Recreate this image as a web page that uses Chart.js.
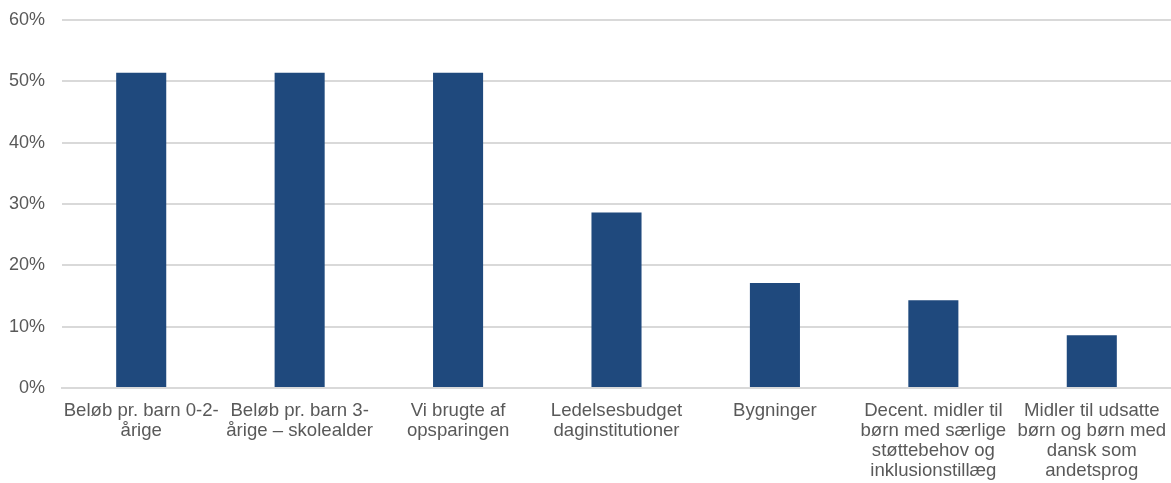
<!DOCTYPE html>
<html>
<head>
<meta charset="utf-8">
<script src="https://cdn.jsdelivr.net/npm/chart.js@4"></script>
<style>
html,body{margin:0;padding:0;background:#fff;}
#wrap{width:1171px;height:483px;position:relative;}
</style>
</head>
<body>
<div id="wrap"><canvas id="c"></canvas></div>
<script>
const categories = [
  ["Beløb pr. barn 0-2-", "årige"],
  ["Beløb pr. barn 3-", "årige – skolealder"],
  ["Vi brugte af", "opsparingen"],
  ["Ledelsesbudget", "daginstitutioner"],
  ["Bygninger"],
  ["Decent. midler til", "børn med særlige", "støttebehov og", "inklusionstillæg"],
  ["Midler til udsatte", "børn og børn med", "dansk som", "andetsprog"]
];
const values = [51.4, 51.4, 51.4, 28.6, 17.1, 14.3, 8.6];
const yTicks = [0, 10, 20, 30, 40, 50, 60];

new Chart(document.getElementById('c'), {
  type: 'bar',
  data: {
    labels: categories,
    datasets: [{
      data: values,
      backgroundColor: '#1F497D',
      barPercentage: 0.316,
      categoryPercentage: 1
    }]
  },
  options: {
    responsive: true,
    maintainAspectRatio: false,
    animation: false,
    layout: { padding: { left: 8, right: 0, top: 20, bottom: 0 } },
    plugins: { legend: { display: false }, tooltip: { enabled: false } },
    scales: {
      x: {
        grid: { display: false, drawTicks: false },
        border: { display: true, color: '#d9d9d9', width: 2 },
        afterFit: (axis) => { axis.height = 95; axis.paddingLeft = 0; axis.paddingRight = 0; },
        ticks: {
          color: '#595959',
          font: { family: "'Liberation Sans', Arial, sans-serif", size: 18.6, lineHeight: 1.075 },
          padding: 13,
          maxRotation: 0,
          minRotation: 0,
          autoSkip: false
        }
      },
      y: {
        min: 0,
        max: 60,
        afterBuildTicks: (axis) => { axis.ticks = yTicks.map(v => ({ value: v })); },
        afterFit: (axis) => { axis.width = 54; axis.paddingTop = 0; axis.paddingBottom = 0; },
        grid: { color: '#d9d9d9', lineWidth: 2, drawTicks: false },
        border: { display: false },
        ticks: {
          color: '#595959',
          font: { family: "'Liberation Sans', Arial, sans-serif", size: 18 },
          padding: 17,
          callback: (v) => v + '%'
        }
      }
    }
  }
});
</script>
</body>
</html>
